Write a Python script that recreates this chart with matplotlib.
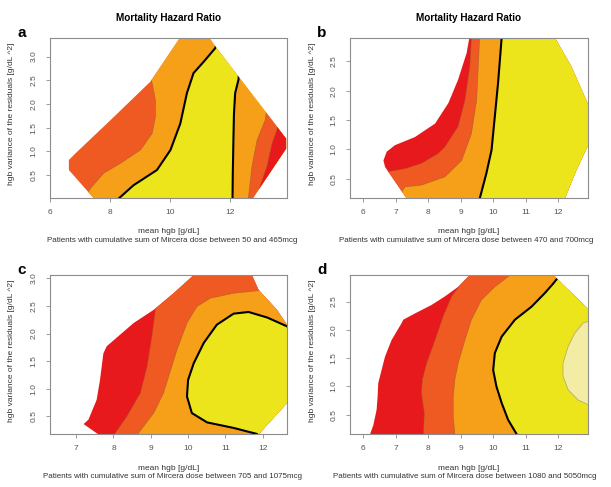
import numpy as np
import matplotlib.pyplot as plt
from matplotlib.patches import Polygon

plt.rcParams['font.family'] = ['Liberation Sans', 'DejaVu Sans']

RED = '#e8191c'
REDOR = '#ee5a22'
ORANGE = '#f6a01a'
YELLOW = '#ede51c'
PALE = '#f2eca4'

title = "Mortality Hazard Ratio"
xlabel = "mean hgb [g/dL]"
ylabel = "hgb variance of the residuals [g/dL ^2]"
captions = [
    "Patients with cumulative sum of Mircera dose between 50 and 465mcg",
    "Patients with cumulative sum of Mircera dose between 470 and 700mcg",
    "Patients with cumulative sum of Mircera dose between 705 and 1075mcg",
    "Patients with cumulative sum of Mircera dose between 1080 and 5050mcg",
]

# ---- panel a ----
a_hull_x = [7.55, 6.63, 6.63, 6.85, 8.02, 9.35, 10.45, 11.2, 11.52, 13.88, 13.88, 12.7]
a_hull_y = [-0.05, 0.61, 0.82, 0.96, 1.66, 2.47, 3.5, 3.5, 3.21, 1.27, 1.06, -0.05]
a_b1_x = [7.0, 7.35, 7.79, 8.35, 9.02, 9.41, 9.52, 9.52, 9.41, 9.25, 9.0]
a_b1_y = [-0.1, 0.22, 0.54, 0.75, 1.03, 1.38, 1.73, 2.08, 2.44, 2.8, 3.6]
a_b2_x = [8.1, 8.79, 9.57, 10.02, 10.35, 10.57, 10.79, 11.13, 11.52, 11.7]
a_b2_y = [-0.1, 0.29, 0.61, 1.03, 1.59, 2.23, 2.65, 2.89, 3.18, 3.6]
a_b3_x = [12.09, 12.10, 12.12, 12.14, 12.18, 12.29, 12.45]
a_b3_y = [-0.1, 0.5, 1.2, 1.8, 2.23, 2.51, 3.6]
a_b4_x = [12.6, 12.74, 12.91, 13.18, 13.6]
a_b4_y = [-0.1, 0.68, 1.24, 1.66, 3.6]
a_b5_x = [12.9, 13.02, 13.24, 13.41, 13.57, 14.0]
a_b5_y = [-0.1, 0.29, 0.68, 1.17, 1.45, 3.6]

# ---- panel b ----
b_hull_x = [7.5, 6.67, 6.62, 6.72, 6.97, 7.59, 8.21, 8.62, 8.92, 9.18, 9.33, 11.7, 12.41, 13.0, 13.0, 12.56, 12.11]
b_hull_y = [0.03, 0.70, 0.81, 0.96, 1.07, 1.21, 1.44, 1.79, 2.19, 2.64, 3.1, 3.1, 2.41, 1.67, 1.16, 0.64, 0.03]
b_b1_x = [6.0, 6.67, 7.28, 7.79, 8.31, 8.51, 8.92, 9.13, 9.28, 9.35]
b_b1_y = [0.0, 0.61, 0.67, 0.76, 0.93, 1.04, 1.39, 1.84, 2.41, 3.1]
b_b2_x = [6.9, 7.28, 7.79, 8.51, 9.03, 9.33, 9.49, 9.54, 9.6]
b_b2_y = [0.0, 0.36, 0.39, 0.53, 0.81, 1.27, 1.84, 2.41, 3.1]
b_b3_x = [9.55, 9.59, 9.79, 9.95, 10.05, 10.15, 10.26, 10.3]
b_b3_y = [0.0, 0.17, 0.59, 0.99, 1.56, 2.13, 2.9, 3.1]

# ---- panel c ----
c_hull_x = [7.75, 7.20, 7.33, 7.55, 7.64, 7.73, 7.82, 8.54, 9.08, 9.61, 10.30, 11.65, 11.89, 12.38, 12.65, 12.65, 11.94, 11.79]
c_hull_y = [0.1, 0.36, 0.44, 0.80, 1.16, 1.64, 1.77, 2.19, 2.43, 2.73, 3.15, 3.15, 2.79, 2.43, 2.16, 0.74, 0.21, 0.1]
c_b1_x = [7.85, 8.36, 8.72, 8.90, 9.03, 9.12, 9.2]
c_b1_y = [0.0, 0.5, 0.92, 1.40, 1.95, 2.40, 3.2]
c_b2_x = [8.45, 9.08, 9.34, 9.70, 9.97, 10.24, 10.60, 11.22, 11.94, 13.5, 14.0]
c_b2_y = [0.0, 0.56, 0.92, 1.70, 2.19, 2.49, 2.64, 2.73, 2.78, 2.85, 3.2]
c_blob_x = [11.9, 11.85, 11.22, 10.51, 10.10, 9.97, 10.0, 10.15, 10.42, 10.77, 11.22, 11.62, 12.12, 12.65, 13.0]
c_blob_y = [0.1, 0.18, 0.29, 0.39, 0.56, 0.86, 1.16, 1.46, 1.83, 2.16, 2.36, 2.39, 2.29, 2.13, 1.95]

# ---- panel d ----
d_hull_x = [6.2, 6.21, 6.31, 6.41, 6.44, 6.46, 6.54, 6.67, 6.87, 7.18, 7.23, 7.59, 8.10, 8.51, 8.92, 9.42, 11.71, 12.31, 13.0, 13.0]
d_hull_y = [0.0, 0.16, 0.32, 0.59, 0.82, 1.06, 1.24, 1.53, 1.82, 2.12, 2.18, 2.29, 2.44, 2.59, 2.76, 3.05, 3.05, 2.71, 2.33, 0.0]
d_b1_x = [7.85, 7.85, 7.88, 7.79, 7.82, 7.95, 8.21, 8.46, 8.72, 9.1, 9.5]
d_b1_y = [0.0, 0.16, 0.53, 0.88, 1.12, 1.41, 1.82, 2.24, 2.59, 2.88, 3.1]
d_b2_x = [8.8, 8.82, 8.77, 8.77, 8.82, 8.92, 9.13, 9.33, 9.64, 10.05, 10.46, 10.7]
d_b2_y = [0.0, 0.16, 0.47, 0.82, 1.12, 1.41, 1.82, 2.18, 2.53, 2.76, 2.94, 3.1]
d_b3_x = [10.85, 10.72, 10.46, 10.26, 10.10, 10.0, 10.05, 10.26, 10.67, 11.18, 11.59, 11.85, 12.1]
d_b3_y = [0.0, 0.16, 0.41, 0.71, 1.0, 1.29, 1.59, 1.88, 2.18, 2.41, 2.65, 2.82, 3.0]
d_blob_x = [13.2, 12.92, 12.77, 12.51, 12.31, 12.15, 12.15, 12.31, 12.62, 12.92, 13.2]
d_blob_y = [2.2, 2.15, 2.12, 1.94, 1.71, 1.41, 1.18, 0.94, 0.76, 0.68, 0.66]


def add_clipped(ax, patch, hull):
    ax.add_patch(patch)
    patch.set_clip_path(hull)


def draw_panel(ax, hull_x, hull_y, bounds, colors, black, blob=None):
    hull = Polygon(np.column_stack([hull_x, hull_y]), closed=True,
                   facecolor=colors[0], edgecolor='none')
    ax.add_patch(hull)
    for (bx, by), col, blk in zip(bounds, colors[1:], black):
        pts = list(zip(bx, by)) + [(20, by[-1]), (20, by[0])]
        add_clipped(ax, Polygon(pts, closed=True, facecolor=col, edgecolor='none'), hull)
        if blk:
            ln, = ax.plot(bx, by, color='black', lw=1.5)
        else:
            ln, = ax.plot(bx, by, color='#9a5a2a', lw=0.5, alpha=0.6)
        ln.set_clip_path(hull)
    if blob is not None:
        bx, by, col, edge = blob
        pts = list(zip(bx, by)) + [(20, by[-1]), (20, by[0])]
        add_clipped(ax, Polygon(pts, closed=True, facecolor=col, edgecolor='none'), hull)
        if edge == 'black':
            ln, = ax.plot(bx, by, color='black', lw=1.5)
        else:
            ln, = ax.plot(bx, by, color='#b0a070', lw=0.5)
        ln.set_clip_path(hull)


fig = plt.figure(figsize=(6.11, 4.87), dpi=100)

W, H = 611, 487
boxes = [(50, 38, 287, 198), (350, 38, 588, 198), (50, 275, 287, 434), (350, 275, 588, 434)]
axs = []
for (l, t, r, b) in boxes:
    axs.append(fig.add_axes([l / W, 1 - b / H, (r - l) / W, (b - t) / H]))

draw_panel(axs[0], a_hull_x, a_hull_y,
           [(a_b1_x, a_b1_y), (a_b2_x, a_b2_y), (a_b3_x, a_b3_y), (a_b4_x, a_b4_y), (a_b5_x, a_b5_y)],
           [REDOR, ORANGE, YELLOW, ORANGE, REDOR, RED], [False, True, True, False, False])
draw_panel(axs[1], b_hull_x, b_hull_y,
           [(b_b1_x, b_b1_y), (b_b2_x, b_b2_y), (b_b3_x, b_b3_y)],
           [RED, REDOR, ORANGE, YELLOW], [False, False, True])
draw_panel(axs[2], c_hull_x, c_hull_y,
           [(c_b1_x, c_b1_y), (c_b2_x, c_b2_y)],
           [RED, REDOR, ORANGE], [False, False],
           blob=(c_blob_x, c_blob_y, YELLOW, 'black'))
draw_panel(axs[3], d_hull_x, d_hull_y,
           [(d_b1_x, d_b1_y), (d_b2_x, d_b2_y), (d_b3_x, d_b3_y)],
           [RED, REDOR, ORANGE, YELLOW], [False, False, True],
           blob=(d_blob_x, d_blob_y, PALE, 'grey'))

xlims = [(6.02, 13.91), (5.59, 12.92), (6.30, 12.65), (5.59, 12.92)]
ylims = [(0.02, 3.39), (0.17, 2.90), (0.18, 3.06), (0.16, 2.97)]
xticks = [[6, 8, 10, 12], [6, 7, 8, 9, 10, 11, 12], [7, 8, 9, 10, 11, 12], [6, 7, 8, 9, 10, 11, 12]]
yticks = [[0.5, 1.0, 1.5, 2.0, 2.5, 3.0], [0.5, 1.0, 1.5, 2.0, 2.5],
          [0.5, 1.0, 1.5, 2.0, 2.5, 3.0], [0.5, 1.0, 1.5, 2.0, 2.5]]

for ax, xl, yl, xt, yt in zip(axs, xlims, ylims, xticks, yticks):
    ax.set_xlim(xl)
    ax.set_ylim(yl)
    ax.set_xticks(xt)
    ax.set_xticklabels([str(v) for v in xt])
    ax.set_yticks(yt)
    ax.set_yticklabels([f"{v:.1f}" for v in yt], rotation=90, va='center')
    for s in ax.spines.values():
        s.set_color('#8c8c8c')
        s.set_linewidth(0.8)
    ax.tick_params(direction='out', length=3, width=0.6, color='#8c8c8c',
                   labelsize=6, labelcolor='#555555')
    ax.tick_params(axis='x', pad=5)
    ax.tick_params(axis='y', pad=6)

# titles, panel letters, axis texts
cap_shift = [4, -3, 4, -4]
for (l, t, r, b), letter, cap, dx in zip(boxes, "abcd", captions, cap_shift):
    cx = (l + r) / 2 / W
    cy = (t + b) / 2
    if t < 100:
        fig.text(cx, 1 - 18 / H, title, ha='center', va='center', fontsize=7.2, fontweight='bold')
    fig.text((l - 28) / W, 1 - (t - 5) / H, letter, ha='center', va='center', fontsize=11, fontweight='bold')
    fig.text(cx, 1 - (b + 34) / H, xlabel, ha='center', va='center', fontsize=6, color='#333333')
    fig.text(cx + dx / W, 1 - (b + 43) / H, cap, ha='center', va='center', fontsize=5.8, color='#333333')
    fig.text((l - 38) / W, 1 - (cy - 4) / H, ylabel, ha='center', va='center', rotation=90,
             fontsize=6, color='#333333')

fig.savefig("out.png", dpi=100)
